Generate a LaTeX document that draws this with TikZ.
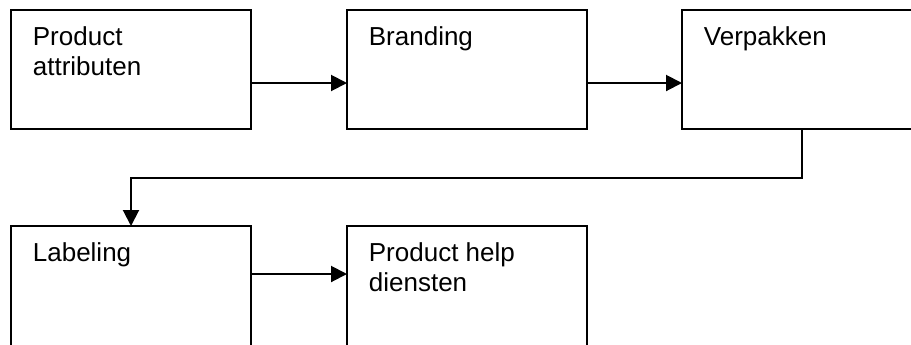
\documentclass[tikz,border=0pt]{standalone}
\usepackage{fontspec}
\setmainfont{Liberation Sans}
\usetikzlibrary{arrows.meta}
\begin{document}
\begin{tikzpicture}[x=0.5pt,y=-0.5pt,
  box/.style={draw, line width=1pt, minimum width=120pt, minimum height=59.5pt,
              inner sep=0pt, outer sep=0pt, anchor=north west},
  lbl/.style={font=\fontsize{13}{15}\selectfont, align=left, inner sep=0pt,
              anchor=base west},
  arr/.style={line width=1pt, -{Triangle[length=8pt,width=8pt]}}]
\useasboundingbox (0,0) rectangle (911,344);
\clip (0,0) rectangle (911,344);

% boxes (top row, bottom row); the bottom row runs off the lower edge
\node[box] (b1) at (11,10) {};
\node[box] (b2) at (347,10) {};
\node[box] (b3) at (682,10) {};
\node[box, minimum height=64pt] (b4) at (11,226) {};
\node[box, minimum height=64pt] (b5) at (347,226) {};

% labels, set at the upper left of each box
% (a two-line node sits on its last baseline, so it is moved down one line more)
\node[lbl] (t1) at ([xshift=10.75pt,yshift=-32.5pt]b1.north west) {Product\\attributen};
\node[lbl] (t2) at ([xshift=10.75pt,yshift=-17.5pt]b2.north west) {Branding};
\node[lbl] (t3) at ([xshift=10.75pt,yshift=-17.5pt]b3.north west) {Verpakken};
\node[lbl] (t4) at ([xshift=10.75pt,yshift=-17.75pt]b4.north west) {Labeling};
\node[lbl] (t5) at ([xshift=10.75pt,yshift=-32.75pt]b5.north west) {Product help\\diensten};

% connectors
\draw[arr] ([yshift=-6.75pt]b1.east) -- ([yshift=-6.75pt]b2.west);
\draw[arr] ([yshift=-6.75pt]b2.east) -- ([yshift=-6.75pt]b3.west);
\draw[arr] (b3.south) -- ++(0,49) -| (b4.north);
\draw[arr] ([yshift=8pt]b4.east) -- ([yshift=8pt]b5.west);
\end{tikzpicture}
\end{document}
